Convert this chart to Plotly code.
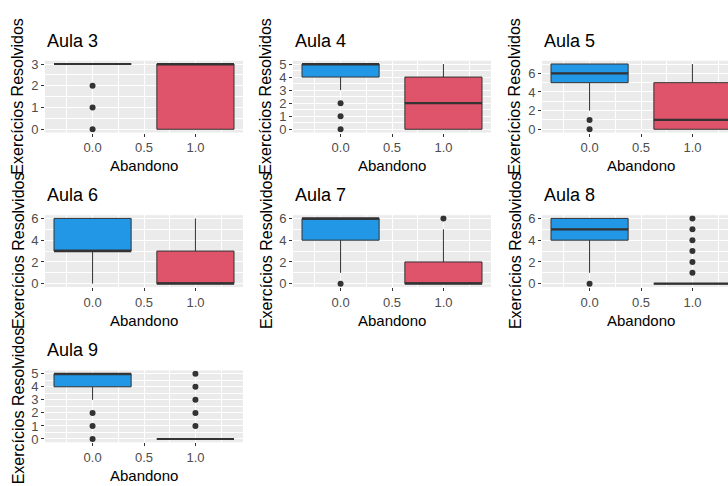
import plotly.graph_objects as go

# ---------------- data ----------------
aulas = ["Aula 3", "Aula 4", "Aula 5", "Aula 6", "Aula 7", "Aula 8", "Aula 9"]
abandono = [0.0, 1.0]

# group Abandono = 0.0
q1_0 = [3, 4, 5, 3, 4, 4, 4]
med_0 = [3, 5, 6, 3, 6, 5, 5]
q3_0 = [3, 5, 7, 6, 6, 6, 5]
lo_0 = [3, 3, 2, 0, 1, 1, 3]
hi_0 = [3, 5, 7, 6, 6, 6, 5]
out_0 = [[0, 1, 2], [0, 1, 2], [0, 1], [], [0], [0], [0, 1, 2]]

# group Abandono = 1.0
q1_1 = [0, 0, 0, 0, 0, 0, 0]
med_1 = [3, 2, 1, 0, 0, 0, 0]
q3_1 = [3, 4, 5, 3, 2, 0, 0]
lo_1 = [0, 0, 0, 0, 0, 0, 0]
hi_1 = [3, 5, 7, 6, 5, 0, 0]
out_1 = [[], [], [], [], [6], [1, 2, 3, 4, 5, 6], [1, 2, 3, 4, 5]]

y_dtick = [1, 1, 2, 2, 2, 2, 1]
fills = ["#2297E6", "#DF536B"]

# ---------------- layout geometry (pixels) ----------------
W, H = 728, 486
col_left = [45, 293, 542]
panel_w = 198
row_top = [57.7, 214.7, 372.6]
panel_h = 73
box_w = 0.75

FONT = "Liberation Sans, Arial, sans-serif"
xr0 = -0.4625
xr1 = 1.4625

fig = go.Figure()
annotations = []
layout_axes = {}

for i, name in enumerate(aulas):
    r, c = divmod(i, 3)
    k = i + 1
    xa = "x" if k == 1 else f"x{k}"
    ya = "y" if k == 1 else f"y{k}"
    xkey = "xaxis" if k == 1 else f"xaxis{k}"
    ykey = "yaxis" if k == 1 else f"yaxis{k}"

    groups = [
        (q1_0[i], med_0[i], q3_0[i], lo_0[i], hi_0[i], out_0[i]),
        (q1_1[i], med_1[i], q3_1[i], lo_1[i], hi_1[i], out_1[i]),
    ]
    allv = []
    for gi, (q1, md, q3, lo, hi, outs) in enumerate(groups):
        xpos = abandono[gi]
        allv += [lo, hi] + list(outs)
        fig.add_trace(go.Box(
            x=[xpos], q1=[q1], median=[md], q3=[q3],
            lowerfence=[lo], upperfence=[hi],
            width=box_w, fillcolor=fills[gi],
            line=dict(color="#333333", width=1),
            whiskerwidth=0, boxpoints=False, showlegend=False,
            hoverinfo="skip", xaxis=xa, yaxis=ya,
        ))
        # thicker median line (ggplot fatten)
        fig.add_trace(go.Scatter(
            x=[xpos - box_w / 2, xpos + box_w / 2], y=[md, md],
            mode="lines", line=dict(color="#333333", width=2.2),
            showlegend=False, hoverinfo="skip", xaxis=xa, yaxis=ya,
        ))
        if outs:
            fig.add_trace(go.Scatter(
                x=[xpos] * len(outs), y=outs, mode="markers",
                marker=dict(color="#333333", size=6),
                showlegend=False, hoverinfo="skip", xaxis=xa, yaxis=ya,
            ))

    ymin, ymax = min(allv), max(allv)
    pad = (ymax - ymin) * 0.05
    left = col_left[c]
    right = left + panel_w
    x_hi = xr1
    if right > W:
        x_hi = xr0 + (W - left) / panel_w * (xr1 - xr0)
        right = W
    top = row_top[r]
    bot = top + panel_h

    layout_axes[xkey] = dict(
        domain=[left / W, right / W], range=[xr0, x_hi], anchor=ya,
        tickmode="linear", tick0=0, dtick=0.5, tickformat=".1f",
        showgrid=True, gridcolor="white", gridwidth=1.1, zeroline=False,
        ticks="outside", ticklen=3, tickcolor="#333333", tickwidth=1,
        tickfont=dict(family=FONT, size=13, color="#4D4D4D"),
        minor=dict(tick0=0, dtick=0.25, showgrid=True, gridcolor="white", gridwidth=0.5, ticks=""),
        showline=False, fixedrange=True,
    )
    d = y_dtick[i]
    layout_axes[ykey] = dict(
        domain=[1 - bot / H, 1 - top / H], range=[ymin - pad, ymax + pad], anchor=xa,
        tickmode="linear", tick0=0, dtick=d,
        showgrid=True, gridcolor="white", gridwidth=1.1, zeroline=False,
        ticks="outside", ticklen=3, tickcolor="#333333", tickwidth=1,
        tickfont=dict(family=FONT, size=13, color="#4D4D4D"),
        minor=dict(tick0=0, dtick=d / 2, showgrid=True, gridcolor="white", gridwidth=0.5, ticks=""),
        showline=False, fixedrange=True,
    )

    full_right = left + panel_w
    # panel title
    annotations.append(dict(
        text=name, x=left / W, y=1 - (top - 20.5) / H, xref="paper", yref="paper",
        xanchor="left", yanchor="middle", showarrow=False,
        font=dict(family=FONT, size=18, color="black"),
    ))
    # x axis title
    annotations.append(dict(
        text="Abandono", x=(left + full_right) / 2 / W, y=1 - (bot + 34) / H,
        xref="paper", yref="paper", xanchor="center", yanchor="middle", showarrow=False,
        font=dict(family=FONT, size=15, color="black"),
    ))
    # y axis title
    annotations.append(dict(
        text="Exercícios Resolvidos", x=(left - 27) / W, y=1 - (top + panel_h / 2) / H,
        xref="paper", yref="paper", xanchor="center", yanchor="middle", showarrow=False,
        textangle=-90, font=dict(family=FONT, size=16, color="black"),
    ))

fig.update_layout(
    width=W, height=H, autosize=False,
    margin=dict(l=0, r=0, t=0, b=0),
    paper_bgcolor="white", plot_bgcolor="#EBEBEB",
    boxmode="overlay", showlegend=False,
    annotations=annotations,
    **layout_axes,
)

fig.write_html(
    "out.html",
    config={"displayModeBar": False},
    post_script="document.body.style.margin='0px';document.body.style.overflow='hidden';",
)
